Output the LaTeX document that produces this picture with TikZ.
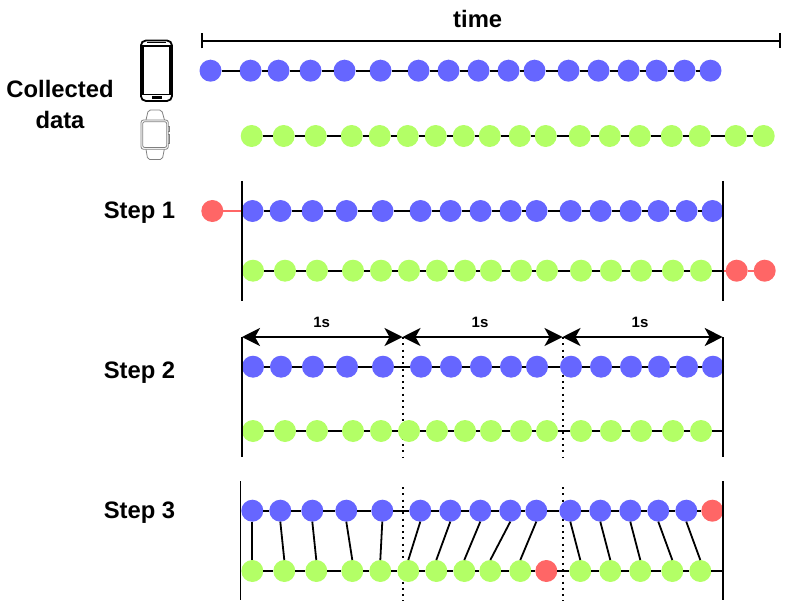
\documentclass[tikz,border=0pt]{standalone}
\usepackage{fontspec}
\setmainfont{Liberation Sans}
\usetikzlibrary{arrows.meta}

\tikzset{
  bluedot/.style={circle, fill=dotblue, minimum size=22pt, inner sep=0pt, outer sep=0pt},
  greendot/.style={circle, fill=dotgreen, minimum size=22pt, inner sep=0pt, outer sep=0pt},
  reddot/.style={circle, fill=dotred, minimum size=22pt, inner sep=0pt, outer sep=0pt},
  bigtext/.style={font=\fontsize{23.8}{30.6}\selectfont\bfseries, inner sep=0pt, align=center},
  sectext/.style={font=\fontsize{15}{18}\selectfont\bfseries, inner sep=0pt, anchor=base},
  dotline/.style={line width=2pt, dash pattern=on 2pt off 4.3pt},
  bigarrow/.style={{Stealth[length=18pt, width=18pt, inset=5pt]}-{Stealth[length=18pt, width=18pt, inset=5pt]}}
}
\definecolor{dotblue}{HTML}{6666FF}
\definecolor{dotgreen}{HTML}{B3FF66}
\definecolor{dotred}{HTML}{FF6666}

% name, y, style, x values
\newcommand{\dotrow}[4]{
  \foreach \px [count=\idx, remember=\idx as \lastidx (initially 0)] in {#4} {
    \node[#3] (#1\idx) at (\px,#2) {};
    \ifnum\idx>1 \draw (#1\lastidx) -- (#1\idx); \fi
  }
}
% name, x, top y, bottom y
\newcommand{\vbar}[4]{
  \coordinate (#1t) at (#2,#3);
  \coordinate (#1b) at (#2,#4);
  \draw (#1t) -- (#1b);
}

\begin{document}
\begin{tikzpicture}[x=1pt, y=-1pt, line width=1.8pt]
    \useasboundingbox (0,0) rectangle (800,604);

    % time bar
    \node[bigtext, anchor=base] (time) at (477.7,27.3) {time};
    \coordinate (timel) at (201,41);
    \coordinate (timer) at (780.7,41);
    \draw[{Bar[width=15pt]}-{Bar[width=15pt]}] (timel) -- (timer);

    % labels
    \node[bigtext] (collected) at (60,104.5) {Collected\\data};
    \node[bigtext, anchor=base] (step1) at (139.5,218.5) {Step 1};
    \node[bigtext, anchor=base] (step2) at (139.5,378.5) {Step 2};
    \node[bigtext, anchor=base] (step3) at (139.5,518.5) {Step 3};

    % phone
    \draw[line width=1.8pt, rounded corners=5pt] (140.9,40.5) rectangle (172,101);
    \draw[line width=1.6pt] (142.9,46) rectangle (170,94.5);
    \draw[line width=1pt] (147,43) -- (166,43);
    \fill (151.5,96.5) rectangle (161.5,99.5);

    % watch
    \draw[gray, line width=0.8pt, rounded corners=2.5pt] (141,120) rectangle (168.3,149.3);
    \draw[gray, line width=0.8pt, rounded corners=2pt] (142.7,121.7) rectangle (166.7,147.5);
    \draw[gray, line width=0.8pt, rounded corners=2pt] (146,120) -- (148.3,110) -- (161.7,110) -- (164.5,120);
    \draw[gray, line width=0.8pt, rounded corners=2pt] (146,149.3) -- (147.7,159.5) -- (162.3,159.5) -- (164.3,149.3);
    \draw[gray, line width=0.8pt] (168.3,126.7) -- (169.7,126.7) -- (169.7,131.7) -- (168.3,131.7);
    \draw[gray, line width=0.8pt] (168.3,134) -- (169.7,134) -- (169.7,143) -- (168.3,143);

    % collected data
    \dotrow{cb}{70.7}{bluedot}{210.5,250.5,278.5,310.5,344.5,380.5,418.5,448.5,478.5,508.5,534.5,568.5,598.5,628.5,656.5,684.5,710.5}
    \dotrow{cg}{136}{greendot}{251.7,283.7,315.7,351.7,379.7,407.7,435.7,463.7,489.7,519.7,545.7,579.7,609.7,639.7,671.7,699.7,735.7,763.7}

    % step 1
    \node[reddot] (ar) at (212.3,211) {};
    \dotrow{ab}{211}{bluedot}{252.5,280.5,312.5,346.5,382.5,420.5,450.5,480.5,510.5,536.5,570.5,600.5,630.5,658.5,686.5,712.5}
    \dotrow{ag}{270.7}{greendot}{253,285,317,353,381,409,437,465,491,521,547,581,611,641,673,701}
    \node[reddot] (ax) at (736.7,270.7) {};
    \node[reddot] (ay) at (764.7,270.7) {};
    \coordinate (aend) at (723,270.7);
    \draw[dotred] (ar) -- (ab1);
    \draw (ag16) -- (aend);
    \draw[dotred] (aend) -- (ax);
    \draw[dotred] (ax) -- (ay);
    \vbar{al}{242}{181}{301}
    \vbar{az}{723}{181}{301}

    % step 2
    \coordinate (tick1) at (242,337);
    \coordinate (tick2) at (402.5,337);
    \coordinate (tick3) at (562.5,337);
    \coordinate (tick4) at (722.7,337);
    \coordinate (btick2) at (402.5,457);
    \coordinate (btick3) at (562.5,457);
    \draw[dotline] (tick2) -- (btick2);
    \draw[dotline] (tick3) -- (btick3);
    \dotrow{bb}{366.7}{bluedot}{253,281,313,347,383,421,451,481,511,537,571,601,631,659,687,713}
    \dotrow{bg}{431}{greendot}{253,285,317,353,381,409,437,465,491,521,547,581,611,641,673,701}
    \coordinate (bend) at (723,431);
    \draw (bg16) -- (bend);
    \vbar{bl}{242}{337}{457}
    \vbar{bz}{723}{337}{457}
    \draw[bigarrow] (tick1) -- (tick2);
    \draw[bigarrow] (tick2) -- (tick3);
    \draw[bigarrow] (tick3) -- (tick4);
    \node[sectext] (sec1) at (321.7,327.7) {1s};
    \node[sectext] (sec2) at (480,327.7) {1s};
    \node[sectext] (sec3) at (640,327.7) {1s};

    % step 3
    \coordinate (dtick2) at (402.5,487);
    \coordinate (dtick3) at (562.5,487);
    \coordinate (ftick2) at (402.5,601);
    \coordinate (ftick3) at (562.5,601);
    \draw[dotline] (dtick2) -- (ftick2);
    \draw[dotline] (dtick3) -- (ftick3);
    \dotrow{sb}{510.7}{bluedot}{252.3,280.3,312.3,346.3,382.3,420.3,450.3,480.3,510.3,536.3,570.3,600.3,630.3,658.3,686.3}
    \node[reddot] (sr) at (712.3,510.7) {};
    \draw (sb15) -- (sr);
    \dotrow{sg}{571}{greendot}{252.3,284.3,316.3,352.3,380.3,408.3,436.3,464.3,490.3,520.3}
    \node[reddot] (st) at (546.3,571) {};
    \dotrow{sh}{571}{greendot}{580.3,610.3,640.3,672.3,700.3}
    \coordinate (send) at (723,571);
    \draw (sg10) -- (st);
    \draw (st) -- (sh1);
    \draw (sh5) -- (send);
    \foreach \i in {1,...,10} \draw (sb\i.south) -- (sg\i.north);
    \foreach \i [evaluate=\i as \j using int(\i+10)] in {1,...,5} \draw (sb\j.south) -- (sh\i.north);
    \vbar{sl}{240.5}{481}{600}
    \vbar{sz}{722.7}{481}{600}
\end{tikzpicture}
\end{document}
